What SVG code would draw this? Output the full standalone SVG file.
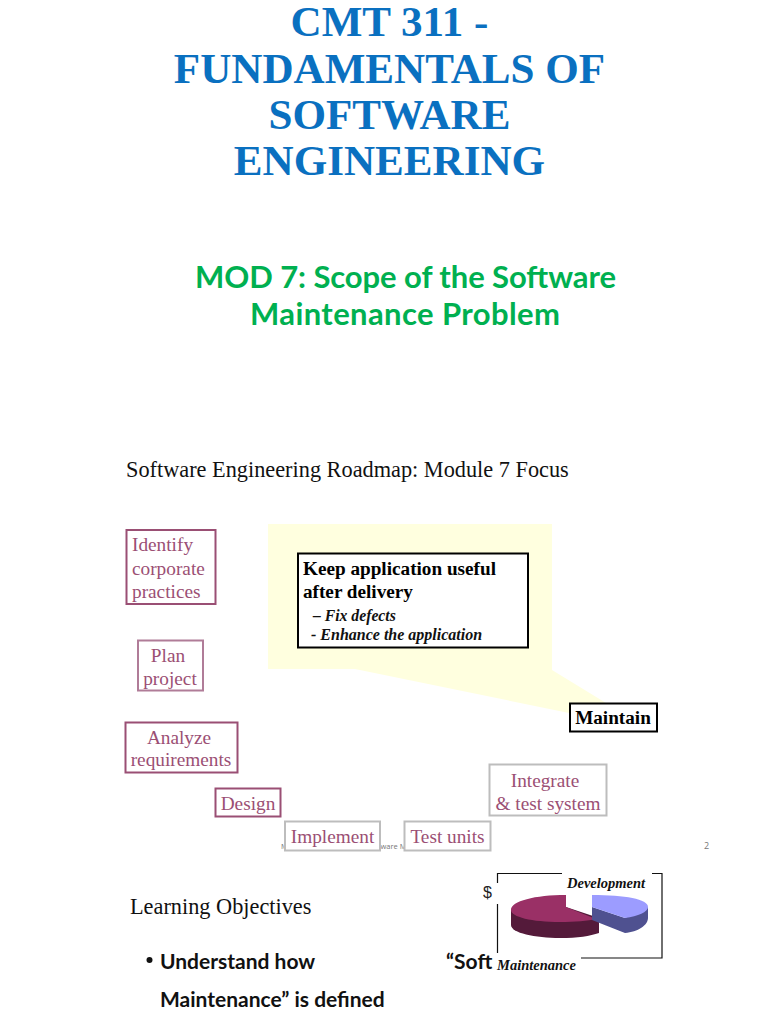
<svg xmlns="http://www.w3.org/2000/svg" width="768" height="1024" viewBox="0 0 768 1024">
<style>
.s{font-family:"Liberation Serif","Times New Roman",serif}
.c{font-family:Lato,"Open Sans",sans-serif}
.title{font-size:43.1px;font-weight:700;fill:#0a70c0;text-anchor:middle}
.mod{font-size:31px;font-weight:700;fill:#00b050;text-anchor:middle}
.head{font-size:22.3px;fill:#111}
.step{font-size:19.3px;fill:#9b4f74;text-anchor:middle}
.box{fill:#fff;stroke-width:2}
.mag{stroke:#9a4f74}
.pale{stroke:#b07c98}
.gray{stroke:#bdbdbd}
.blk{stroke:#000}
.frame{fill:none;stroke:#111;stroke-width:1.2}
.bi{font-weight:700;font-style:italic;fill:#111}
.foot{font-family:"Open Sans",sans-serif;font-size:7.5px;fill:#777}
.body{font-size:21px;font-weight:700;fill:#111}
</style>
<rect width="768" height="1024" fill="#fff"/>
<g id="titles">
<text class="s title" x="389.500" y="36">CMT 311 -</text>
<text class="s title" x="389.500" y="83">FUNDAMENTALS OF</text>
<text class="s title" x="389.500" y="129">SOFTWARE</text>
<text class="s title" x="389.500" y="175">ENGINEERING</text>
<text class="c mod" x="405.500" y="288" textLength="421">MOD 7: Scope of the Software</text>
<text class="c mod" x="405" y="325" textLength="310">Maintenance Problem</text>
<text class="s head" x="126" y="477">Software Engineering Roadmap: Module 7 Focus</text>
</g>
<g id="footer">
<text class="foot" x="281" y="849">M</text>
<text class="foot" x="380.500" y="849">ware M</text>
<text class="foot" x="704" y="849" style="font-size:9px">2</text>
</g>
<g id="callout">
<polygon points="268,524 552,524 552,670 606,703 657,731 569,713 355,669 268,669" fill="#ffffdf"/>
</g>
<g id="callout-text">
<rect x="298" y="553.500" width="230" height="94" fill="#fff" stroke="#000" stroke-width="2"/>
<text class="s" x="303" y="575" font-size="19.200" font-weight="700" fill="#000">Keep application useful</text>
<text class="s" x="303" y="598" font-size="19.200" font-weight="700" fill="#000">after delivery</text>
<text class="s bi" x="313" y="621" font-size="15.700">– Fix defects</text>
<text class="s bi" x="311" y="640" font-size="16">- Enhance the application</text>
</g>
<g id="identify">
<rect class="box mag" x="126.500" y="530" width="89" height="74"/>
<text class="s step" x="132" y="551" style="text-anchor:start">Identify</text>
<text class="s step" x="132" y="575" style="text-anchor:start">corporate</text>
<text class="s step" x="132" y="598" style="text-anchor:start">practices</text>
</g>
<g id="plan">
<rect class="box pale" x="138" y="640.500" width="65" height="50"/>
<text class="s step" x="168" y="662">Plan</text>
<text class="s step" x="170" y="685">project</text>
</g>
<g id="analyze">
<rect class="box mag" x="125.500" y="722.500" width="112" height="50"/>
<text class="s step" x="179" y="744">Analyze</text>
<text class="s step" x="181" y="766">requirements</text>
</g>
<g id="design">
<rect class="box mag" x="215.500" y="788.500" width="65" height="28"/>
<text class="s step" x="248" y="810">Design</text>
</g>
<g id="implement">
<rect class="box gray" x="285" y="821.500" width="95" height="29"/>
<text class="s step" x="332.500" y="843">Implement</text>
</g>
<g id="test">
<rect class="box gray" x="404.500" y="821.500" width="86" height="29"/>
<text class="s step" x="447.500" y="843">Test units</text>
</g>
<g id="integrate">
<rect class="box gray" x="489.500" y="764.500" width="117" height="51"/>
<text class="s step" x="545" y="787">Integrate</text>
<text class="s step" x="548" y="810">&amp; test system</text>
</g>
<g id="maintain">
<rect class="box blk" x="570" y="703.500" width="87" height="28"/>
<text class="s" x="613" y="724" font-size="19.200" font-weight="700" fill="#000" text-anchor="middle">Maintain</text>
</g>
<g id="objectives">
<text class="s head" x="130" y="914">Learning Objectives</text>
<circle cx="149.500" cy="960" r="3" fill="#111"/>
<text class="c body" x="160" y="969">Understand how</text>
<text class="c body" x="160" y="1007">Maintenance” is defined</text>
<text class="c body" x="446" y="969">“Soft</text>
</g>
<g id="chart">
<path class="frame" d="M497.500 883V873.500H562M652 873.500H662V958H581M497.500 904V953"/>
<path d="M511 910V925C511 933 535 938 560 938C578 938 590 936 599 933V918L566 907Z" fill="#541a3a"/>
<path d="M566 895C535 895 511 901 511 910C511 917 532 922 560 922C575 922 588 921 596 919L566 907Z" fill="#9a3066"/>
<path d="M592 907V920L625 933C638 932 648 925 648 918V907L625 918Z" fill="#4f5190"/>
<path d="M592 895C625 895 648 899 648 907C648 912 638 916 625 918L592 907Z" fill="#9c9cff"/>
<text x="483" y="898" font-size="16" fill="#222" style="font-family:'Liberation Sans',sans-serif">$</text>
<text class="s bi" x="567" y="888" font-size="14.500">Development</text>
<text class="s bi" x="497" y="970" font-size="14.500">Maintenance</text>
</g>
</svg>
